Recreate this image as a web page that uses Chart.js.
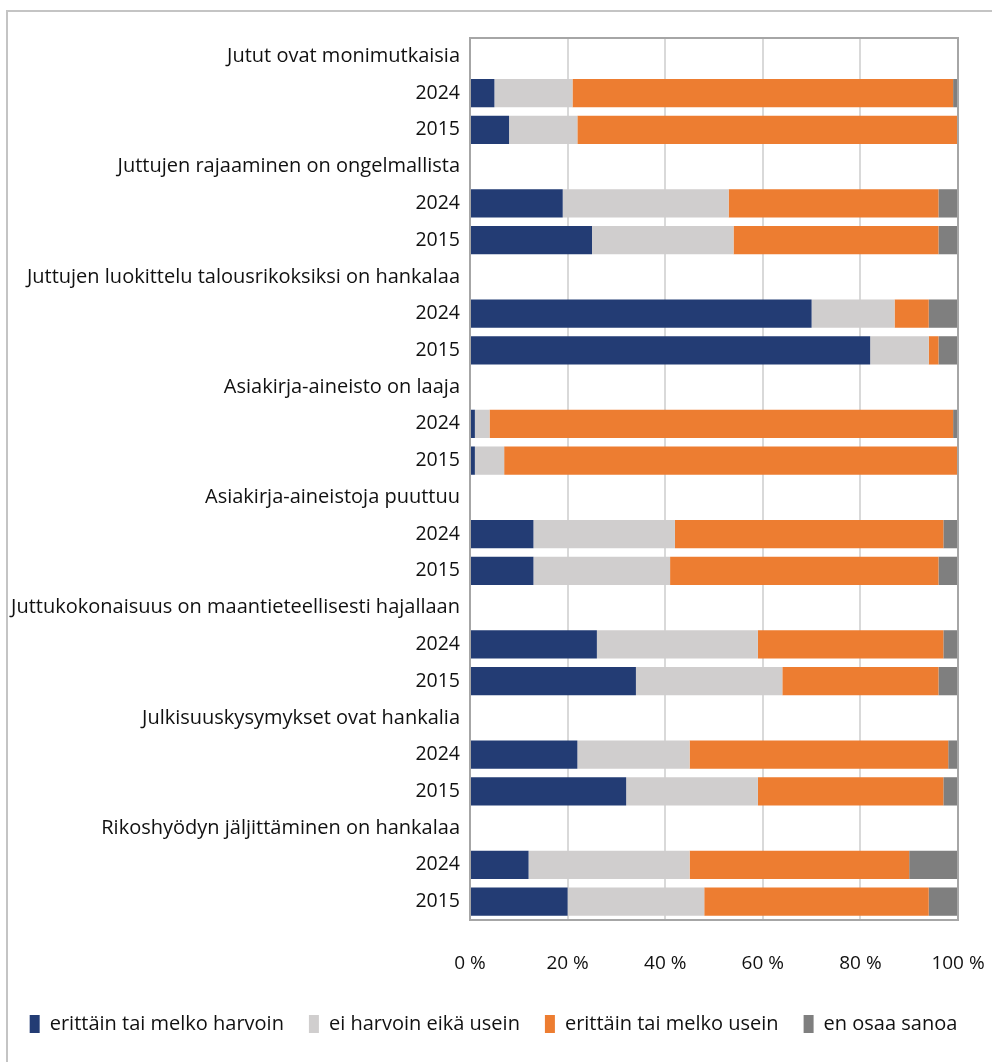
<!DOCTYPE html>
<html lang="fi">
<head>
<meta charset="utf-8">
<title>Juttujen ongelmat</title>
<script src="https://cdn.jsdelivr.net/npm/chart.js"></script>
<style>
    html, body { margin: 0; padding: 0; background: #fff; }
    #wrap { position: relative; width: 992px; height: 1062px; overflow: hidden; }
    #frame {
        position: absolute; left: 6px; top: 10px; width: 1100px; height: 1200px;
        border-top: 2px solid #c4c4c4; border-left: 2px solid #c4c4c4;
    }
    #chart { position: absolute; left: 0; top: 0; }
</style>
</head>
<body>
<div id="wrap">
    <div id="frame"></div>
    <canvas id="chart" width="992" height="1062"></canvas>
</div>
<script>
// Aiheet ja vuodet
const topics = [
    "Jutut ovat monimutkaisia",
    "Juttujen rajaaminen on ongelmallista",
    "Juttujen luokittelu talousrikoksiksi on hankalaa",
    "Asiakirja-aineisto on laaja",
    "Asiakirja-aineistoja puuttuu",
    "Juttukokonaisuus on maantieteellisesti hajallaan",
    "Julkisuuskysymykset ovat hankalia",
    "Rikoshyödyn jäljittäminen on hankalaa"
];
const years = ["2024", "2015"];

// Osuudet (%) aiheittain: [2024, 2015]
const harvoin   = [[5, 8],   [19, 25], [70, 82], [1, 1],  [13, 13], [26, 34], [22, 32], [12, 20]];
const eiKumpik  = [[16, 14], [34, 29], [17, 12], [3, 6],  [29, 28], [33, 30], [23, 27], [33, 28]];
const usein     = [[78, 78], [43, 42], [7, 2],   [95, 93],[55, 55], [38, 32], [53, 38], [45, 46]];
const eos       = [[1, 0],   [4, 4],   [6, 4],   [1, 0],  [3, 4],   [3, 4],   [2, 3],   [10, 6]];

const seriesNames  = ["erittäin tai melko harvoin", "ei harvoin eikä usein", "erittäin tai melko usein", "en osaa sanoa"];
const seriesColors = ["#233c74", "#d0cece", "#ed7d31", "#7f7f7f"];
const xTicks = [0, 20, 40, 60, 80, 100];

// Rivit: otsikko + 2024 + 2015 jokaiselle aiheelle
const labels = [];
const isHeader = [];
topics.forEach(t => {
    labels.push(t); isHeader.push(true);
    years.forEach(y => { labels.push(y); isHeader.push(false); });
});
function expand(arr) {
    const out = [];
    arr.forEach(pair => { out.push(null); pair.forEach(v => out.push(v)); });
    return out;
}
const datasets = [harvoin, eiKumpik, usein, eos].map((arr, i) => ({
    label: seriesNames[i],
    data: expand(arr),
    backgroundColor: seriesColors[i],
    borderWidth: 0,
    categoryPercentage: 1.0,
    barPercentage: 0.77
}));

const FONT = "'Open Sans', 'Noto Sans', sans-serif";

// Kehys piirtoalueen ympärille
const areaBorder = {
    id: "areaBorder",
    afterDraw(chart) {
        const { ctx, chartArea: a } = chart;
        ctx.save();
        ctx.strokeStyle = "#a6a6a6";
        ctx.lineWidth = 2;
        ctx.strokeRect(a.left, a.top, a.right - a.left, a.bottom - a.top);
        ctx.restore();
    }
};

new Chart(document.getElementById("chart").getContext("2d"), {
    type: "bar",
    data: { labels, datasets },
    options: {
        indexAxis: "y",
        responsive: false,
        animation: false,
        layout: { padding: { left: 0, right: 5, top: 38, bottom: 18 } },
        scales: {
            x: {
                stacked: true,
                min: 0, max: 100,
                afterBuildTicks: s => { s.ticks = xTicks.map(v => ({ value: v })); },
                afterFit: s => { s.height = 69; s.paddingLeft = 0; s.paddingRight = 34; },
                grid: { color: "#d9d9d9", lineWidth: 2, drawTicks: false },
                border: { display: false },
                ticks: {
                    padding: 32,
                    color: "#111",
                    font: { family: FONT, size: 19 },
                    callback: v => v + " %"
                }
            },
            y: {
                stacked: true,
                afterFit: s => { s.width = 470; },
                grid: { display: false, drawTicks: false },
                border: { display: false },
                ticks: {
                    padding: 10,
                    color: "#111",
                    autoSkip: false,
                    font: ctx => isHeader[ctx.index]
                        ? { family: FONT, size: 20 }
                        : { family: FONT, size: 19.5 }
                }
            }
        },
        plugins: {
            legend: {
                position: "bottom",
                labels: {
                    color: "#111",
                    font: { family: FONT, size: 20 },
                    boxWidth: 10,
                    boxHeight: 18,
                    padding: 25
                }
            },
            tooltip: { enabled: true }
        }
    },
    plugins: [areaBorder]
});
</script>
</body>
</html>
